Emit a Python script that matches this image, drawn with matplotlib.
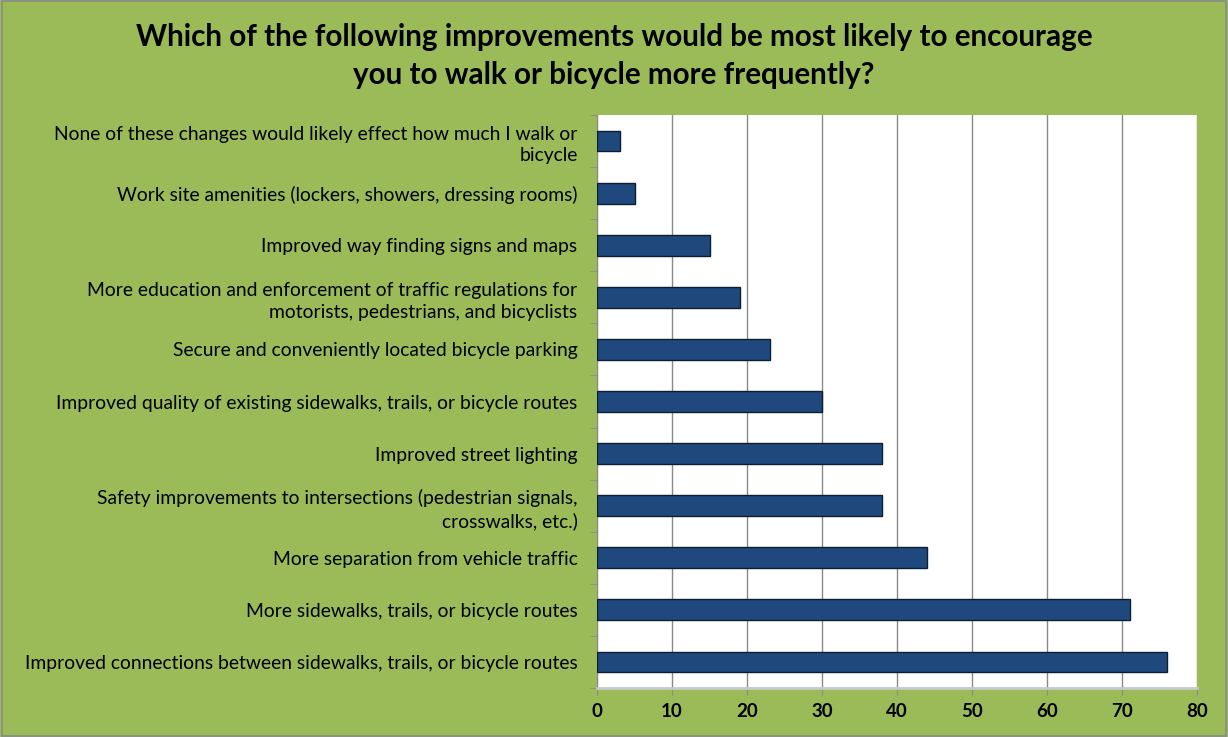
import matplotlib
matplotlib.use("Agg")
from matplotlib import pyplot as plt
from matplotlib.patches import Rectangle

# survey answers, top to bottom as shown
labels = [
    "None of these changes would likely effect how much I walk or\nbicycle",
    "Work site amenities (lockers, showers, dressing rooms)",
    "Improved way finding signs and maps",
    "More education and enforcement of traffic regulations for\nmotorists, pedestrians, and bicyclists",
    "Secure and conveniently located bicycle parking",
    "Improved quality of existing sidewalks, trails, or bicycle routes",
    "Improved street lighting",
    "Safety improvements to intersections (pedestrian signals,\ncrosswalks, etc.)",
    "More separation from vehicle traffic",
    "More sidewalks, trails, or bicycle routes",
    "Improved connections between sidewalks, trails, or bicycle routes",
]
counts = [3, 5, 15, 19, 23, 30, 38, 38, 44, 71, 76]
xticks = [0, 10, 20, 30, 40, 50, 60, 70, 80]

green = "#9BBB59"
bar_color = "#1F497D"

plt.rcParams['font.family'] = ['Lato', 'DejaVu Sans']

fig = plt.figure(figsize=(12.28, 7.37), dpi=100)
fig.patch.set_facecolor(green)
fig.patches.append(Rectangle((0.002, 0.002), 0.996, 0.996, transform=fig.transFigure,
                             fill=False, edgecolor="#8a8a8a", linewidth=1.2))

W, H = 1228, 737
ax = fig.add_axes([597 / W, 1 - 688 / H, 600 / W, 573 / H])
ax.set_facecolor("white")

ypos = list(range(len(labels)))
ax.barh(ypos, counts, height=0.4, color=bar_color, edgecolor="#0d1f33", linewidth=1.0, zorder=3)
ax.set_ylim(len(labels) - 0.5, -0.5)
ax.set_xlim(0, 80)
ax.set_xticks(xticks)
ax.set_xticklabels([str(t) for t in xticks], fontsize=13.5, fontweight="bold")
ax.set_yticks(ypos)
ax.set_yticklabels(labels, fontsize=13.9, linespacing=1.35)
ax.set_yticks([i - 0.5 for i in range(len(labels) + 1)], minor=True)
ax.tick_params(axis="y", which="major", length=0, pad=14)
ax.tick_params(axis="y", which="minor", length=5, color="#8a8a8a")
ax.tick_params(axis="x", length=5, color="#8a8a8a", pad=6)
ax.grid(axis="x", color="#8a8a8a", linewidth=1.0, zorder=0)
for side in ["top", "right"]:
    ax.spines[side].set_visible(False)
ax.spines["left"].set_color("#8a8a8a")
ax.spines["bottom"].set_color("#c8c8c8")
ax.spines["bottom"].set_linewidth(2)

fig.text(614 / W, 1 - 56 / H,
         "Which of the following improvements would be most likely to encourage\nyou to walk or bicycle more frequently?",
         ha="center", va="center", fontsize=21.3, fontweight="bold", linespacing=1.45)

fig.savefig("out.png", dpi=100, facecolor=fig.get_facecolor())
